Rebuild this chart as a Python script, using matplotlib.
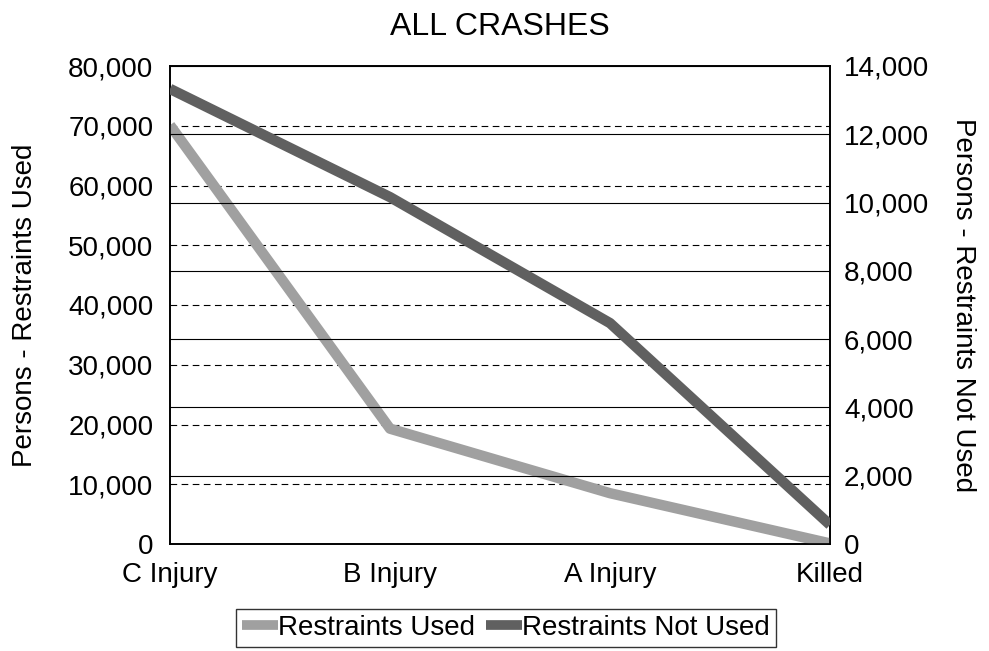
import matplotlib
matplotlib.use('Agg')
import matplotlib.pyplot as plt
from matplotlib.ticker import FuncFormatter

plt.rcParams['font.family'] = ['Liberation Sans', 'DejaVu Sans']

categories = ["C Injury", "B Injury", "A Injury", "Killed"]
used = [70100, 19300, 8500, 100]
not_used = [13330, 10160, 6470, 560]

left_ticks = list(range(0, 80001, 10000))
right_ticks = list(range(0, 14001, 2000))

fig = plt.figure(figsize=(9.89, 6.51), dpi=100)
ax = fig.add_axes([170 / 989, 1 - 544 / 651, 660 / 989, 478 / 651])
ax2 = ax.twinx()

fmt = FuncFormatter(lambda v, p: f"{int(v):,}")

# grid lines: dashed for left axis, solid for right axis
for t in left_ticks[1:-1]:
    ax.axhline(t, color='k', linestyle=(0, (6, 4)), linewidth=0.8, zorder=1)
for t in right_ticks[1:]:
    ax2.axhline(t, color='k', linewidth=0.8, zorder=1)

x = range(len(categories))
l1, = ax.plot(x, used, color='#a0a0a0', linewidth=7.5, solid_capstyle='butt',
              label="Restraints Used", zorder=3)
l2, = ax2.plot(x, not_used, color='#606060', linewidth=7.5, solid_capstyle='butt',
               label="Restraints Not Used", zorder=3)

ax.set_xlim(0, 3)
ax.set_ylim(0, 80000)
ax2.set_ylim(0, 14000)
ax.set_xticks(list(x))
ax.set_xticklabels(categories)
ax.set_yticks(left_ticks)
ax2.set_yticks(right_ticks)
ax.yaxis.set_major_formatter(fmt)
ax2.yaxis.set_major_formatter(fmt)

for a in (ax, ax2):
    a.tick_params(labelsize=20, length=0)
    for s in a.spines.values():
        s.set_linewidth(1.2)
ax.tick_params(axis='y', pad=12)
ax2.tick_params(axis='y', pad=10)
ax.tick_params(axis='x', pad=13)

ax.set_ylabel("Persons - Restraints Used", fontsize=20, labelpad=22)
ax2.set_ylabel("Persons - Restraints Not Used", fontsize=20, rotation=270, labelpad=34)
ax.set_title("ALL CRASHES", fontsize=23, pad=22)

leg = fig.legend(handles=[l1, l2], loc='center', bbox_to_anchor=(506 / 989, 1 - 628 / 651),
                 ncol=2, fontsize=20, frameon=True, fancybox=False, edgecolor='k',
                 handlelength=1.3, handletextpad=0.0, columnspacing=0.4,
                 borderpad=0.2, borderaxespad=0)
leg.get_frame().set_linewidth(1.0)
for h in leg.get_lines():
    h.set_linewidth(7)

plt.savefig("out.png", dpi=100)
